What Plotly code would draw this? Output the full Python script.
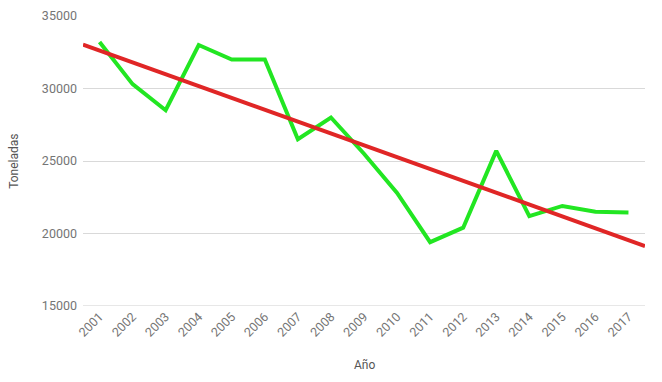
import numpy as np
import plotly.graph_objects as go

years = [2001, 2002, 2003, 2004, 2005, 2006, 2007, 2008, 2009,
         2010, 2011, 2012, 2013, 2014, 2015, 2016, 2017]
toneladas = [33200, 30300, 28500, 33000, 32000, 32000, 26500, 28000, 25500,
             22800, 19400, 20400, 25700, 21200, 21900, 21500, 21450]
y_ticks = [15000, 20000, 25000, 30000, 35000]

# linear least-squares trendline, extended to the plot edges
slope, intercept = np.polyfit(years, toneladas, 1)
x_range = [years[0] - 0.5, years[-1] + 0.5]
trend_y = [slope * x + intercept for x in x_range]

fig = go.Figure()
fig.add_trace(go.Scatter(x=years, y=toneladas, mode="lines",
                         line=dict(color="#22e622", width=4), hoverinfo="skip"))
fig.add_trace(go.Scatter(x=x_range, y=trend_y, mode="lines",
                         line=dict(color="#e02626", width=4), hoverinfo="skip"))

font = "Roboto, Arial, sans-serif"
fig.update_layout(
    width=662, height=382,
    margin=dict(l=83, r=17, t=16, b=76),
    paper_bgcolor="white", plot_bgcolor="white",
    showlegend=False,
    font=dict(family=font, size=12, color="#757575"),
    xaxis=dict(
        range=x_range, tickmode="array", tickvals=years,
        ticktext=[str(y) for y in years], tickangle=-45,
        showgrid=False, zeroline=False, showline=False, ticks="",
        tickfont=dict(size=12.5, color="#757575"), automargin=False,
    ),
    yaxis=dict(
        range=[15000, 35000], tickmode="array", tickvals=y_ticks,
        ticktext=[str(v) for v in y_ticks],
        showgrid=True, gridcolor="#d9d9d9", gridwidth=1, zeroline=False,
        showline=False, ticks="", ticklabelstandoff=5,
        tickfont=dict(size=12.5, color="#757575"), automargin=False,
    ),
    annotations=[
        dict(text="Año", xref="paper", yref="paper", x=0.5, y=-0.172,
             yanchor="top", showarrow=False,
             font=dict(size=12, color="#555555", family=font)),
        dict(text="Toneladas", xref="paper", yref="paper", x=-0.123, y=0.5,
             textangle=-90, showarrow=False, xanchor="center",
             font=dict(size=12, color="#555555", family=font)),
    ],
)
fig.add_shape(type="line", xref="paper", yref="y", x0=0, x1=1, y0=15000, y1=15000,
              line=dict(color="#cfcfcf", width=1), layer="below")

fig.write_html("out.html", config={"displayModeBar": False},
               post_script="document.body.style.margin='0';document.body.style.overflow='hidden';")
